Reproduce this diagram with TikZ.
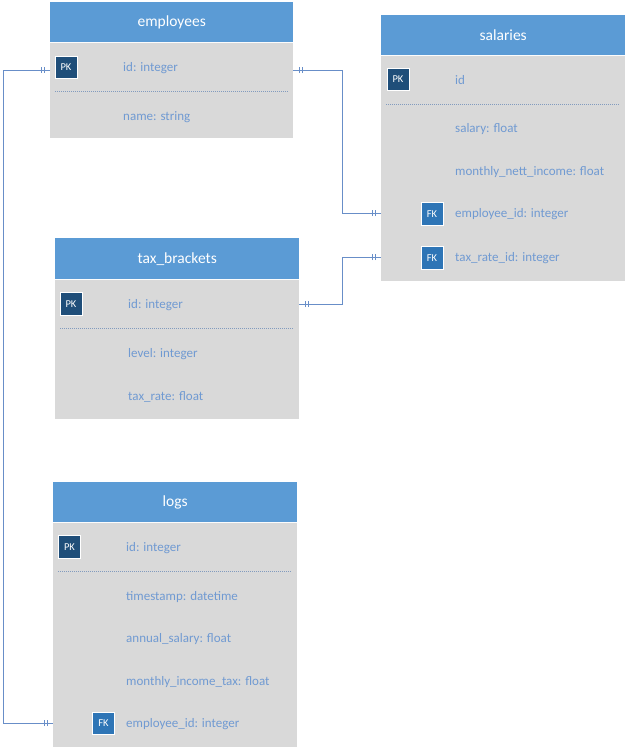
\documentclass[tikz,border=0pt]{standalone}
\usepackage{fontspec}
\setmainfont{Carlito}
\usetikzlibrary{decorations.markings}
\definecolor{hdrblue}{RGB}{91,155,213}
\definecolor{bodygray}{RGB}{217,217,217}
\definecolor{pkblue}{RGB}{31,78,121}
\definecolor{fkblue}{RGB}{46,117,182}
\definecolor{fldtxt}{RGB}{112,154,210}
\definecolor{connc}{RGB}{104,142,200}
\definecolor{sepc}{RGB}{130,155,190}
\tikzset{
  hdr/.style={fill=hdrblue, text=white, anchor=north west, inner sep=0pt, font=\fontsize{15.5}{18}\selectfont},
  tbody/.style={fill=bodygray, anchor=north west, inner sep=0pt},
  fld/.style={text=fldtxt, anchor=base west, inner sep=0pt, font=\fontsize{13}{15}\selectfont},
  keybox/.style={draw=white, line width=0.9pt, text=white, minimum width=22pt, minimum height=22.5pt, inner sep=0pt, font=\fontsize{10.5}{12}\selectfont},
  pkbox/.style={keybox, fill=pkblue},
  fkbox/.style={keybox, fill=fkblue},
  sepline/.style={draw=sepc, line width=0.6pt, dash pattern=on 1pt off 1pt},
  hline/.style={draw=white!92!bodygray, line width=1pt},
  conn/.style={draw=connc, line width=0.9pt},
  onetick/.style={postaction={decorate, decoration={markings,
     mark=at position 6pt with {\draw[conn] (0,-3pt)--(0,3pt);},
     mark=at position 9pt with {\draw[conn] (0,-3pt)--(0,3pt);},
     mark=at position -6pt with {\draw[conn] (0,-3pt)--(0,3pt);},
     mark=at position -9pt with {\draw[conn] (0,-3pt)--(0,3pt);}}}}
}
\begin{document}
\begin{tikzpicture}[x=1pt,y=-1pt]
\useasboundingbox (0,0) rectangle (627,750);
\fill[white] (0,0) rectangle (627,750);

% employees
\node[tbody, minimum width=243pt, minimum height=96pt] (empB) at (50,42) {};
\node[hdr, minimum width=243pt, minimum height=40pt] (empH) at (50,2) {employees};
\draw[hline] (empH.south west) -- (empH.south east);
\node[pkbox] (empPK) at (66,67.5) {PK};
\node[fld] (empId) at (123,71.5) {id: integer};
\draw[sepline] (55,91) -- (288,91);
\node[fld] (empName) at (123,120.5) {name: string};

% salaries
\node[tbody, minimum width=244pt, minimum height=226pt] (salB) at (381,55) {};
\node[hdr, minimum width=244pt, minimum height=40pt] (salH) at (381,15) {salaries};
\draw[hline] (salH.south west) -- (salH.south east);
\node[pkbox] (salPK) at (398,79.5) {PK};
\node[fld] (salId) at (455,84.5) {id};
\draw[sepline] (386,104) -- (620,104);
\node[fld] (salSal) at (455,132.5) {salary: float};
\node[fld] (salNet) at (455,175.5) {monthly\_nett\_income: float};
\node[fkbox] (salFK1) at (432,214) {FK};
\node[fld] (salEmp) at (455,217.5) {employee\_id: integer};
\node[fkbox] (salFK2) at (432,258) {FK};
\node[fld] (salTax) at (455,261.5) {tax\_rate\_id: integer};

% tax_brackets
\node[tbody, minimum width=244pt, minimum height=140pt] (taxB) at (55,279) {};
\node[hdr, minimum width=244pt, minimum height=41pt] (taxH) at (55,238) {tax\_brackets};
\draw[hline] (taxH.south west) -- (taxH.south east);
\node[pkbox] (taxPK) at (71,304) {PK};
\node[fld] (taxId) at (128,308.5) {id: integer};
\draw[sepline] (60,328) -- (294,328);
\node[fld] (taxLvl) at (128,357.5) {level: integer};
\node[fld] (taxRate) at (128,400.5) {tax\_rate: float};

% logs
\node[tbody, minimum width=244pt, minimum height=225pt] (logB) at (53,522) {};
\node[hdr, minimum width=244pt, minimum height=40pt] (logH) at (53,482) {logs};
\draw[hline] (logH.south west) -- (logH.south east);
\node[pkbox] (logPK) at (69.5,547) {PK};
\node[fld] (logId) at (126,551.5) {id: integer};
\draw[sepline] (58,571) -- (292,571);
\node[fld] (logTs) at (126,600.5) {timestamp: datetime};
\node[fld] (logAnn) at (126,642.5) {annual\_salary: float};
\node[fld] (logTax) at (126,685.5) {monthly\_income\_tax: float};
\node[fkbox] (logFK) at (103.5,723.5) {FK};
\node[fld] (logEmp) at (126,727.5) {employee\_id: integer};

% connector end points
\coordinate (c1a) at (empB.east |- 0,70);
\coordinate (c1b) at (salB.west |- 0,213);
\coordinate (c2a) at (taxB.east |- 0,304);
\coordinate (c2b) at (salB.west |- 0,257);
\coordinate (c3a) at (empB.west |- 0,70);
\coordinate (c3b) at (logB.west |- 0,723);

\draw[conn, onetick] (c1a) -- (342,70) -- (342,213) -- (c1b);
\draw[conn, onetick] (c2a) -- (342,304) -- (342,257) -- (c2b);
\draw[conn, onetick] (c3a) -- (3,70) -- (3,723) -- (c3b);
\end{tikzpicture}
\end{document}
